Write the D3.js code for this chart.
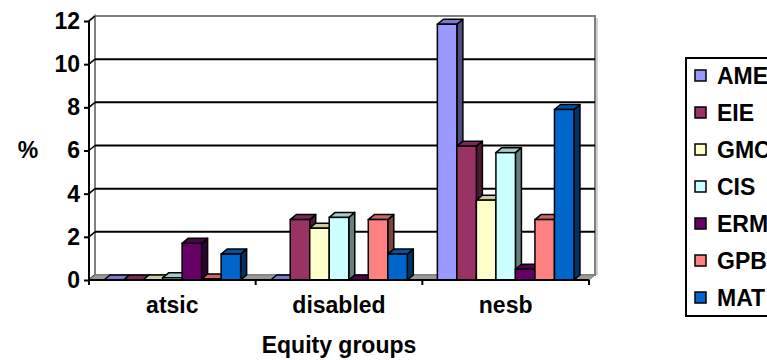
<!DOCTYPE html>
<html>
<head>
<meta charset="utf-8">
<script src="https://cdn.jsdelivr.net/npm/d3@7"></script>
<style>
  html, body { margin: 0; padding: 0; background: #fff; }
  svg { display: block; }
  svg text { font-family: "Liberation Sans", Arial, sans-serif; font-weight: bold; fill: #000; }
</style>
</head>
<body>
<svg id="chart" width="767" height="360"></svg>
<script>
// Equity group participation (%) by program
const categories = ["atsic", "disabled", "nesb"];
const seriesNames = ["AME", "EIE", "GMC", "CIS", "ERM", "GPB", "MAT"];
const AME = [0, 0, 11.85];
const EIE = [0, 2.8, 6.2];
const GMC = [0, 2.4, 3.7];
const CIS = [0.1, 2.9, 5.9];
const ERM = [1.7, 0, 0.5];
const GPB = [0.05, 2.8, 2.8];
const MAT = [1.2, 1.2, 7.9];
const yTicks = [0, 2, 4, 6, 8, 10, 12];

const seriesValues = [AME, EIE, GMC, CIS, ERM, GPB, MAT];
const fills  = ["#9999ff", "#993366", "#ffffcc", "#ccffff", "#660066", "#ff8080", "#0066cc"];

const svg = d3.select("#chart");
const FS = 23;

// plot frame (front plane) and depth offset for the 3D look
const plotL = 89, plotR = 589, plotB = 280, plotT = 21;
const dx = 6, dy = -5;

const x = d3.scaleBand().domain(categories).range([plotL, plotR]).padding(0);
const xs = d3.scaleBand().domain(seriesNames).range([0, x.bandwidth()])
  .paddingInner(0).paddingOuter(0.77);
const y = d3.scaleLinear().domain([0, 12]).range([plotB, plotT]);

const shade = (c, k) => { const h = d3.rgb(c); return d3.rgb(h.r * k, h.g * k, h.b * k).formatHex(); };

// side wall
svg.append("polygon")
  .attr("points", [[plotL, plotT], [plotL + dx, plotT + dy], [plotL + dx, plotB + dy], [plotL, plotB]].join(" "))
  .attr("fill", "#fff").attr("stroke", "#808080").attr("stroke-width", 2);

// back wall
svg.append("rect")
  .attr("x", plotL + dx).attr("y", plotT + dy)
  .attr("width", plotR - plotL).attr("height", plotB - plotT)
  .attr("fill", "#fff").attr("stroke", "#808080").attr("stroke-width", 2);
svg.append("line")
  .attr("x1", plotR + dx + 2).attr("x2", plotR + dx + 2)
  .attr("y1", plotT + dy + 2).attr("y2", plotB + dy)
  .attr("stroke", "#c0c0c0").attr("stroke-width", 1.5);

// gridlines on the back wall and across the side wall
yTicks.filter(t => t > 0 && t < 12).forEach(t => {
  svg.append("line")
    .attr("x1", plotL + dx).attr("x2", plotR + dx)
    .attr("y1", y(t) + dy).attr("y2", y(t) + dy)
    .attr("stroke", "#000").attr("stroke-width", 2);
});
yTicks.forEach(t => {
  svg.append("line")
    .attr("x1", plotL).attr("y1", y(t))
    .attr("x2", plotL + dx).attr("y2", y(t) + dy)
    .attr("stroke", "#000").attr("stroke-width", 1.5);
});

// floor
svg.append("polygon")
  .attr("points", [[plotL, plotB], [plotR, plotB], [plotR + dx, plotB + dy], [plotL + dx, plotB + dy]].join(" "))
  .attr("fill", "#999999").attr("stroke", "#808080").attr("stroke-width", 1);

// bars, drawn left to right so each front face covers its neighbour's side
categories.forEach((cat, ci) => {
  seriesNames.forEach((s, si) => {
    const v = seriesValues[si][ci];
    const x0 = x(cat) + xs(s);
    const w = xs.bandwidth();
    const yt = y(v), yb = y(0);
    const g = svg.append("g");
    const col = fills[si];
    // right side face
    g.append("polygon")
      .attr("points", [[x0 + w, yt], [x0 + w + dx, yt + dy], [x0 + w + dx, yb + dy], [x0 + w, yb]].join(" "))
      .attr("fill", shade(col, 0.5)).attr("stroke", "#000").attr("stroke-width", 1.5).attr("stroke-linejoin", "round");
    // top face
    g.append("polygon")
      .attr("points", [[x0, yt], [x0 + dx, yt + dy], [x0 + w + dx, yt + dy], [x0 + w, yt]].join(" "))
      .attr("fill", shade(col, 0.8)).attr("stroke", "#000").attr("stroke-width", 1.5).attr("stroke-linejoin", "round");
    // front face
    if (yb - yt > 0.5) {
      g.append("rect")
        .attr("x", x0).attr("y", yt).attr("width", w).attr("height", yb - yt)
        .attr("fill", col).attr("stroke", "#000").attr("stroke-width", 1.5);
    }
  });
});

// value axis
svg.append("line")
  .attr("x1", plotL).attr("x2", plotL).attr("y1", plotT).attr("y2", plotB + 1)
  .attr("stroke", "#000").attr("stroke-width", 2);
const yAxis = svg.append("g").attr("transform", `translate(${plotL},0)`)
  .call(d3.axisLeft(y).tickValues(yTicks).tickSize(5).tickPadding(4).tickFormat(d3.format("d")));
yAxis.attr("font-family", null).attr("font-size", null);
yAxis.select(".domain").remove();
yAxis.selectAll(".tick line").attr("stroke", "#000").attr("stroke-width", 2);
yAxis.selectAll(".tick text").attr("font-size", FS).attr("fill", null);

// category axis
svg.append("line")
  .attr("x1", plotL).attr("x2", plotR).attr("y1", plotB).attr("y2", plotB)
  .attr("stroke", "#000").attr("stroke-width", 2);
const xTickPos = categories.map(c => x(c)).concat([plotR]);
xTickPos.forEach(px => {
  svg.append("line").attr("x1", px).attr("x2", px).attr("y1", plotB).attr("y2", plotB + 5)
    .attr("stroke", "#000").attr("stroke-width", 2);
});
svg.append("g").selectAll("text").data(categories).join("text")
  .attr("x", d => x(d) + x.bandwidth() / 2)
  .attr("y", 313)
  .attr("text-anchor", "middle").attr("font-size", FS)
  .text(d => d);

// axis titles
svg.append("text").attr("x", 28).attr("y", 158).attr("text-anchor", "middle")
  .attr("font-size", FS).text("%");
svg.append("text").attr("x", (plotL + plotR) / 2).attr("y", 353).attr("text-anchor", "middle")
  .attr("font-size", FS).text("Equity groups");

// legend
const lg = svg.append("g").attr("transform", "translate(686,58)");
lg.append("rect").attr("x", 0).attr("y", 0).attr("width", 120).attr("height", 258)
  .attr("fill", "#fff").attr("stroke", "#000").attr("stroke-width", 2);
const item = lg.selectAll("g.item").data(seriesNames).join("g")
  .attr("class", "item")
  .attr("transform", (d, i) => `translate(9,${18 + i * 37})`);
item.append("rect").attr("x", 0).attr("y", -6).attr("width", 11).attr("height", 11)
  .attr("fill", (d, i) => fills[i]).attr("stroke", "#000").attr("stroke-width", 1.5);
item.append("text").attr("x", 22).attr("y", 8).attr("font-size", FS)
  .text(d => d);
</script>
</body>
</html>
